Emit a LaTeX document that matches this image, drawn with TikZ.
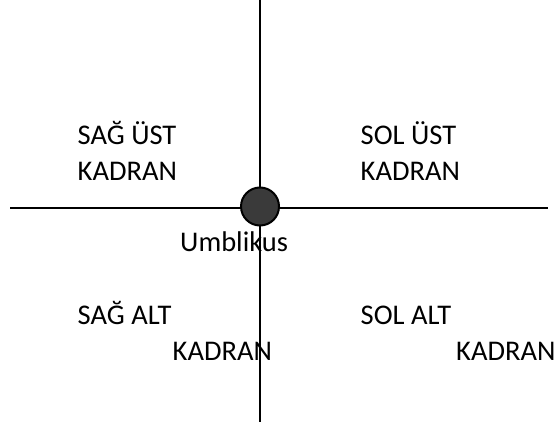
\documentclass[tikz,border=0pt]{standalone}
\usepackage{fontspec}
\setmainfont{Carlito}
\usepackage{tikz}
\usetikzlibrary{positioning}
\definecolor{darkgray}{RGB}{58,58,58}

\begin{document}
\begin{tikzpicture}[x=1pt,y=-1pt,
    lbl/.style={anchor=base west,inner sep=0pt,font=\fontsize{28.5}{36}\selectfont},
    axis/.style={line width=2pt,black}]
    \useasboundingbox (0,0) rectangle (556,427);

    % Axis end points
    \coordinate (top) at (260,0);
    \coordinate (bottom) at (260,422);
    \coordinate (left) at (10,208.5);
    \coordinate (right) at (548,208.5);

    % Axes
    \draw[axis] (top) -- (bottom);
    \draw[axis] (left) -- (right);

    % Umbilicus
    \node[circle,draw,line width=2pt,fill=darkgray,minimum size=38pt,inner sep=0pt] (umb) at (260,206.5) {};
    \node[lbl] (umblbl) at (180,252) {Umblikus};

    % Quadrant labels
    \node[lbl] (sagust) at (77.5,145) {SAĞ ÜST};
    \node[lbl] (sagustk) at (77.5,181) {KADRAN};
    \node[lbl] (solust) at (360.5,145) {SOL ÜST};
    \node[lbl] (solustk) at (360.5,181) {KADRAN};
    \node[lbl] (sagalt) at (77.5,324) {SAĞ ALT};
    \node[lbl] (sagaltk) at (172.5,360.5) {KADRAN};
    \node[lbl] (solalt) at (360.5,324) {SOL ALT};
    \node[lbl] (solaltk) at (456,360.5) {KADRAN};
\end{tikzpicture}
\end{document}
